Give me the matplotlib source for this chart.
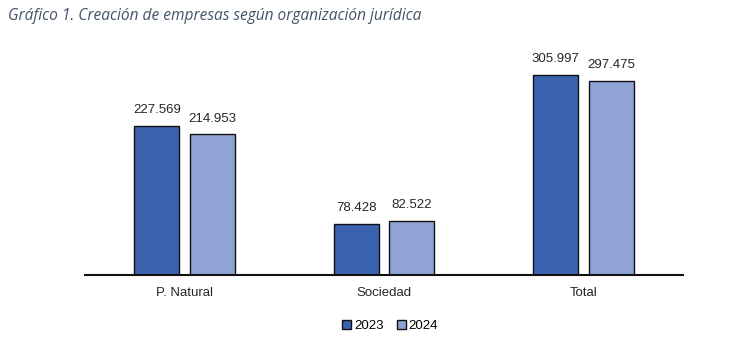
import numpy as np
import matplotlib.pyplot as plt
from matplotlib.patches import Patch

# Data
categories = ["P. Natural", "Sociedad", "Total"]
years = ["2023", "2024"]
values_2023 = [227569, 78428, 305997]
values_2024 = [214953, 82522, 297475]

c2023 = "#3A62AE"
c2024 = "#8FA3D5"

plt.rcParams['font.family'] = ['Liberation Sans', 'DejaVu Sans']

fig = plt.figure(figsize=(7.46, 3.38), dpi=100)
ax = fig.add_axes([85 / 746, (338 - 275) / 338, 598 / 746, 235 / 338])

x = np.arange(len(categories))
w = 0.226
off = 0.139
b1 = ax.bar(x - off, values_2023, w, color=c2023, edgecolor="#111111", linewidth=1.0)
b2 = ax.bar(x + off, values_2024, w, color=c2024, edgecolor="#111111", linewidth=1.0)


def fmt(v):
    return f"{v:,}".replace(",", ".")


for bars, vals in ((b1, values_2023), (b2, values_2024)):
    for rect, v in zip(bars, vals):
        ax.text(rect.get_x() + rect.get_width() / 2, v + 15000, fmt(v),
                ha="center", va="bottom", fontsize=9.5, color="#262626")

ax.set_xlim(-0.5, 2.5)
ax.set_ylim(0, 359500)
ax.set_xticks(x)
ax.set_xticklabels(categories, fontsize=9.5, color="#262626")
ax.tick_params(axis="x", length=0, pad=9)
ax.set_yticks([])
for s in ["top", "right", "left"]:
    ax.spines[s].set_visible(False)
ax.spines["bottom"].set_linewidth(1.5)
ax.spines["bottom"].set_color("#111111")

handles = [Patch(facecolor=c2023, edgecolor="#111111", label=years[0]),
           Patch(facecolor=c2024, edgecolor="#111111", label=years[1])]
fig.legend(handles=handles, loc="center", bbox_to_anchor=(390 / 746, 1 - 326 / 338),
           ncol=2, frameon=False, fontsize=9.5, handlelength=0.7, handleheight=0.7,
           handletextpad=0.2, columnspacing=1.0)

fig.text(8 / 746, 1 - 16 / 338, "Gráfico 1. Creación de empresas según organización jurídica",
         fontsize=11.2, style="italic", family="Open Sans", color="#44546A",
         ha="left", va="center")

fig.savefig("out.png", dpi=100)
